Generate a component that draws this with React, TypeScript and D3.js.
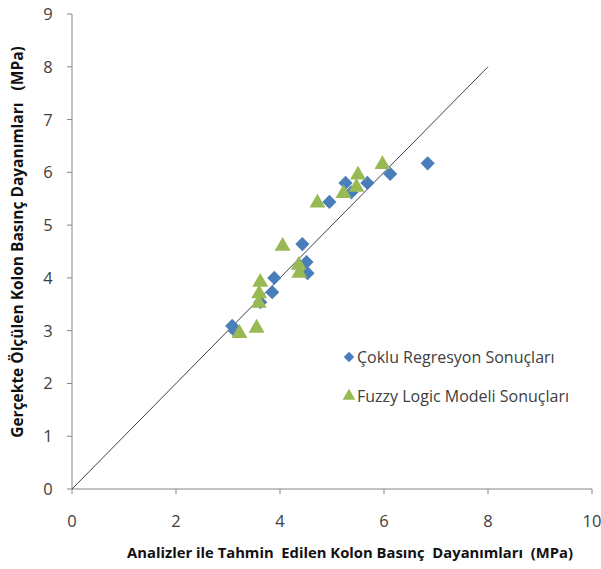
import React from 'react';
import * as d3 from 'd3';

const xTicks = [0, 2, 4, 6, 8, 10];
const yTicks = [0, 1, 2, 3, 4, 5, 6, 7, 8, 9];

// Çoklu Regresyon (x = tahmin, y = ölçülen)
const regX = [3.08, 3.13, 3.85, 3.89, 3.62, 4.43, 4.51, 4.53, 4.95, 5.26, 5.37, 5.68, 6.12, 6.84];
const regY = [3.09, 3.0, 3.73, 4.0, 3.54, 4.64, 4.3, 4.09, 5.44, 5.8, 5.62, 5.8, 5.97, 6.17];

// Fuzzy Logic Modeli
const fuzX = [3.22, 3.55, 3.59, 3.6, 3.62, 4.05, 4.36, 4.37, 4.72, 5.22, 5.47, 5.5, 5.97];
const fuzY = [2.95, 3.05, 3.52, 3.7, 3.92, 4.6, 4.24, 4.09, 5.42, 5.6, 5.72, 5.95, 6.15];

const refLine = [0, 8];

const W = 601;
const H = 569;
const M = { left: 72, top: 14, right: 9, bottom: 80 };

const BLUE = '#4a7ebb';
const GREEN = '#98b954';

export default function App() {
  const x = d3.scaleLinear().domain([0, 10]).range([M.left, W - M.right]);
  const y = d3.scaleLinear().domain([0, 9]).range([H - M.bottom, M.top]);

  const diamond = d3.symbol().type(d3.symbolSquare).size(100)();
  const triangle = d3.symbol().type(d3.symbolTriangle).size(110)();
  const line = d3.line<number>().x(d => x(d)).y(d => y(d));

  const font = 'Open Sans, sans-serif';

  return (
    <svg width={W} height={H} style={{ position: 'absolute', left: 0, top: 0, background: '#fff' }}>
      {/* axes */}
      <line x1={x(0)} x2={x(10)} y1={y(0)} y2={y(0)} stroke="#868686" strokeWidth={1} />
      <line x1={x(0)} x2={x(0)} y1={y(0)} y2={y(9)} stroke="#868686" strokeWidth={1} />
      {xTicks.map(t => (
        <g key={'x' + t}>
          <line x1={x(t)} x2={x(t)} y1={y(0)} y2={y(0) + 5} stroke="#868686" />
          <text x={x(t)} y={y(0) + 38} textAnchor="middle" fontSize={16.5} fill="#404040" fontFamily={font}>{t}</text>
        </g>
      ))}
      {yTicks.map(t => (
        <g key={'y' + t}>
          <line x1={x(0) - 5} x2={x(0)} y1={y(t)} y2={y(t)} stroke="#868686" />
          <text x={x(0) - 24} y={y(t) + 6} textAnchor="middle" fontSize={16.5} fill="#404040" fontFamily={font}>{t}</text>
        </g>
      ))}

      {/* reference line y = x */}
      <path d={line(refLine) || ''} stroke="#404040" strokeWidth={1} fill="none" />

      {/* series */}
      {regX.map((v, i) => (
        <path key={'r' + i} d={diamond} fill={BLUE}
          transform={`translate(${x(v)},${y(regY[i])}) rotate(45)`} />
      ))}
      {fuzX.map((v, i) => (
        <path key={'f' + i} d={triangle} fill={GREEN}
          transform={`translate(${x(v)},${y(fuzY[i])})`} />
      ))}

      {/* legend */}
      <g fontFamily={font} fontSize={16} fill="#404040">
        <path d={d3.symbol().type(d3.symbolSquare).size(55)() || ''} fill={BLUE} transform="translate(349,357) rotate(45)" />
        <text x={357} y={363}>Çoklu Regresyon  Sonuçları</text>
        <path d={d3.symbol().type(d3.symbolTriangle).size(70)() || ''} fill={GREEN} transform="translate(349,396)" />
        <text x={357} y={402}>Fuzzy Logic Modeli Sonuçları</text>
      </g>

      {/* axis titles */}
      <text x={350} y={558} textAnchor="middle" fontSize={14.8} fontWeight="bold" fill="#111" fontFamily={font}
        style={{ whiteSpace: 'pre' }}>
        Analizler ile Tahmin  Edilen Kolon Basınç  Dayanımları  (MPa)
      </text>
      <text transform="translate(23,242) rotate(-90)" textAnchor="middle" fontSize={15.5} fontWeight="bold" fill="#111" fontFamily={font}
        style={{ whiteSpace: 'pre' }}>
        Gerçekte Ölçülen Kolon Basınç Dayanımları   (MPa)
      </text>
    </svg>
  );
}
